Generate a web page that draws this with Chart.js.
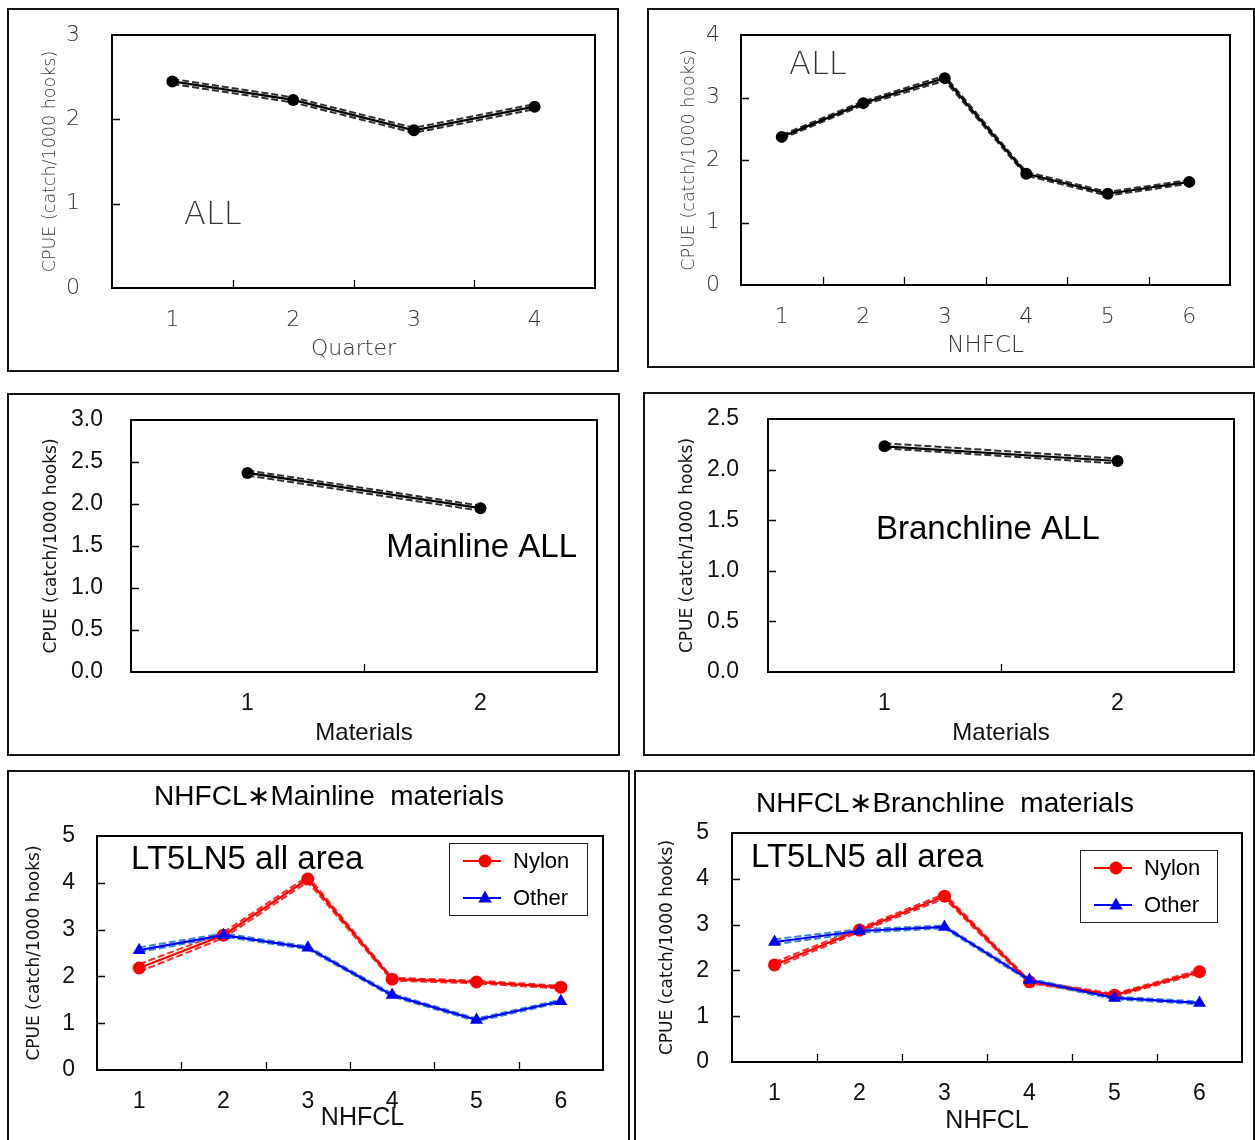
<!DOCTYPE html>
<html>
<head>
<meta charset="utf-8">
<title>CPUE by factor</title>
<script src="https://cdn.jsdelivr.net/npm/chart.js@4.4.1/dist/chart.umd.min.js"></script>
<style>
  html, body { margin: 0; padding: 0; background: #fff; }
  body { width: 1255px; height: 1140px; position: relative; overflow: hidden; }
  canvas { position: absolute; }
  .frame { position: absolute; box-sizing: border-box; border: 2px solid #111; pointer-events: none; }
</style>
</head>
<body>
<script>
// CPUE (catch/1000 hooks) estimates, with their lower and upper bounds
const quarterLabels = ['1', '2', '3', '4'];
const quarterCpue = [2.45, 2.23, 1.87, 2.15];
const quarterLow = [2.42, 2.20, 1.84, 2.12];
const quarterHigh = [2.48, 2.26, 1.90, 2.18];

const nhfclLabels = ['1', '2', '3', '4', '5', '6'];
const nhfclCpue = [2.37, 2.91, 3.31, 1.78, 1.46, 1.65];
const nhfclLow = [2.34, 2.88, 3.27, 1.75, 1.43, 1.62];
const nhfclHigh = [2.40, 2.94, 3.35, 1.81, 1.49, 1.68];

const materialLabels = ['1', '2'];
const mainlineCpue = [2.37, 1.95];
const mainlineLow = [2.34, 1.92];
const mainlineHigh = [2.40, 1.98];
const branchlineCpue = [2.23, 2.085];
const branchlineLow = [2.21, 2.06];
const branchlineHigh = [2.26, 2.11];

const mainNylon = [2.18, 2.88, 4.08, 1.94, 1.88, 1.77];
const mainNylonLow = [2.10, 2.82, 4.02, 1.91, 1.85, 1.74];
const mainNylonHigh = [2.26, 2.94, 4.14, 1.97, 1.91, 1.80];
const mainOther = [2.56, 2.88, 2.61, 1.60, 1.07, 1.47];
const mainOtherLow = [2.52, 2.85, 2.58, 1.57, 1.04, 1.44];
const mainOtherHigh = [2.62, 2.92, 2.64, 1.63, 1.10, 1.50];

const branchNylon = [2.12, 2.88, 3.62, 1.75, 1.46, 1.97];
const branchNylonLow = [2.06, 2.84, 3.57, 1.72, 1.43, 1.93];
const branchNylonHigh = [2.18, 2.92, 3.67, 1.78, 1.49, 2.01];
const branchOther = [2.62, 2.86, 2.95, 1.79, 1.40, 1.29];
const branchOtherLow = [2.57, 2.82, 2.92, 1.76, 1.37, 1.26];
const branchOtherHigh = [2.68, 2.90, 2.98, 1.82, 1.43, 1.32];

const yTitle = 'CPUE (catch/1000 hooks)';

// plot frame, inward ticks, free text and a boxed legend
const decor = {
  id: 'decor',
  afterDraw(chart, args, opts) {
    const { ctx, chartArea: a } = chart;
    const x = chart.scales.x, y = chart.scales.y;
    const ox = opts.origin.x, oy = opts.origin.y;
    ctx.save();
    ctx.strokeStyle = '#000';
    ctx.lineWidth = 2;
    ctx.strokeRect(a.left, a.top, a.right - a.left, a.bottom - a.top);
    ctx.lineWidth = 1.3;
    ctx.beginPath();
    for (let i = 0; i < x.ticks.length - 1; i++) {
      const px = Math.round((x.getPixelForValue(i) + x.getPixelForValue(i + 1)) / 2) + 0.5;
      ctx.moveTo(px, a.bottom);
      ctx.lineTo(px, a.bottom - 8);
    }
    y.ticks.forEach(t => {
      if (t.value > y.min && t.value < y.max) {
        const py = Math.round(y.getPixelForValue(t.value)) + 0.5;
        ctx.moveTo(a.left, py);
        ctx.lineTo(a.left + 8, py);
      }
    });
    ctx.stroke();

    (opts.texts || []).forEach(t => {
      ctx.font = t.font;
      ctx.fillStyle = t.color || '#000';
      ctx.textAlign = t.align || 'left';
      ctx.textBaseline = 'middle';
      ctx.fillText(t.text, t.x - ox, t.y - oy);
    });

    if (opts.legend) {
      const b = opts.legend;
      const bx = b.x - ox, by = b.y - oy;
      ctx.lineWidth = 1;
      ctx.strokeStyle = '#222';
      ctx.strokeRect(bx + 0.5, by + 0.5, b.w, b.h);
      const items = chart.data.datasets.filter(d => !d.bound);
      items.sort((p, q) => p.legendRank - q.legendRank);
      items.forEach((d, i) => {
        const ry = by + 18 + i * 37;
        ctx.strokeStyle = d.borderColor;
        ctx.fillStyle = d.borderColor;
        ctx.lineWidth = 2;
        ctx.beginPath();
        ctx.moveTo(bx + 14, ry);
        ctx.lineTo(bx + 52, ry);
        ctx.stroke();
        const mx = bx + 36;
        ctx.beginPath();
        if (d.pointStyle === 'triangle') {
          const r = d.pointRadius;
          ctx.moveTo(mx, ry - r);
          ctx.lineTo(mx + r * 0.9, ry + r * 0.6);
          ctx.lineTo(mx - r * 0.9, ry + r * 0.6);
          ctx.closePath();
        } else {
          ctx.arc(mx, ry, d.pointRadius, 0, Math.PI * 2);
        }
        ctx.fill();
        ctx.fillStyle = '#000';
        ctx.font = b.font;
        ctx.textAlign = 'left';
        ctx.textBaseline = 'middle';
        ctx.fillText(d.label, bx + 64, ry + 1);
      });
    }
    ctx.restore();
  }
};

function meanSet(label, data, color, pointStyle, radius, order, rank) {
  return {
    label, data, order, legendRank: rank,
    borderColor: color, backgroundColor: color,
    borderWidth: 2.2, pointStyle, pointRadius: radius, pointBorderWidth: 0,
    tension: 0
  };
}

function boundSet(data, color, order) {
  return {
    label: '', data, bound: true, order,
    borderColor: color, borderWidth: 2, borderDash: [7, 3],
    pointRadius: 0, fill: false, tension: 0
  };
}

function makePanel(spec) {
  const f = spec.frame, p = spec.plot;
  const canvas = document.createElement('canvas');
  canvas.width = f.w;
  canvas.height = f.h;
  canvas.style.left = f.x + 'px';
  canvas.style.top = f.y + 'px';
  document.body.appendChild(canvas);
  const box = document.createElement('div');
  box.className = 'frame';
  Object.assign(box.style, { left: f.x + 'px', top: f.y + 'px', width: f.w + 'px', height: f.h + 'px' });
  document.body.appendChild(box);

  const yLh = spec.yTitleFont.size * 1.2;
  const xLh = spec.xTitleFont.size * 1.2;
  const tickLh = spec.tickFont.size * 1.2;
  const padLeft = spec.yTitleX - f.x - yLh / 2;
  const padBottom = f.y + f.h - spec.xTitleY - 1 - xLh / 2;
  const yWidth = p.l - f.x - padLeft;
  const xHeight = f.y + f.h - padBottom - p.b;

  new Chart(canvas, {
    type: 'line',
    data: { labels: spec.labels, datasets: spec.datasets },
    plugins: [decor],
    options: {
      responsive: false,
      animation: false,
      events: [],
      layout: {
        padding: { left: padLeft, top: p.t - f.y, right: f.x + f.w - p.r, bottom: padBottom }
      },
      scales: {
        x: {
          type: 'category',
          offset: true,
          grid: { display: false, drawTicks: false },
          border: { display: false },
          ticks: {
            color: spec.tickColor, font: spec.tickFont, maxRotation: 0, autoSkip: false,
            padding: spec.xTickY - p.b - tickLh / 2 + 2
          },
          title: {
            display: true, text: spec.xTitle, color: spec.tickColor,
            font: spec.xTitleFont, padding: 0
          },
          afterFit: s => { s.height = xHeight; }
        },
        y: {
          min: spec.yMin, max: spec.yMax,
          // invisible tick marks keep the labels clear of the plot frame
          grid: {
            display: true, drawOnChartArea: false, drawTicks: true,
            tickLength: p.l - spec.yTickRight, tickColor: 'rgba(0,0,0,0)'
          },
          border: { display: false },
          ticks: {
            stepSize: spec.yStep, color: spec.tickColor, font: spec.tickFont, padding: 0,
            callback: v => v.toFixed(spec.yDigits)
          },
          title: {
            display: true, text: yTitle, color: spec.tickColor,
            font: spec.yTitleFont, padding: 0
          },
          afterFit: s => { s.width = yWidth; }
        }
      },
      plugins: {
        legend: { display: false },
        tooltip: { enabled: false },
        decor: { origin: { x: f.x, y: f.y }, texts: spec.texts, legend: spec.legend }
      }
    }
  });
}

const thinFont = s => ({ family: 'DejaVu Sans', size: s, weight: 300 });
const plainFont = s => ({ family: 'Liberation Sans', size: s });
const black = '#000', grey = '#303030', red = '#ff0000', blue = '#0000ff';
const redDash = '#ff2a2a', blueDash = '#3c86d6';

// Quarter
makePanel({
  frame: { x: 7, y: 8, w: 612, h: 364 },
  plot: { l: 112, t: 35, r: 595, b: 288 },
  labels: quarterLabels,
  datasets: [
    boundSet(quarterLow, grey, 1), boundSet(quarterHigh, grey, 1),
    meanSet('ALL', quarterCpue, black, 'circle', 6, 0, 0)
  ],
  yMin: 0, yMax: 3, yStep: 1, yDigits: 0,
  tickFont: thinFont(22), tickColor: '#333', yTickRight: 80, xTickY: 318,
  xTitle: 'Quarter', xTitleFont: thinFont(22), xTitleY: 348,
  yTitleFont: thinFont(17.5), yTitleX: 50,
  texts: [{ text: 'ALL', x: 184, y: 216, font: '200 32px "DejaVu Sans"', color: '#333' }]
});

// NHFCL
makePanel({
  frame: { x: 647, y: 8, w: 608, h: 360 },
  plot: { l: 741, t: 35, r: 1230, b: 285 },
  labels: nhfclLabels,
  datasets: [
    boundSet(nhfclLow, grey, 1), boundSet(nhfclHigh, grey, 1),
    meanSet('ALL', nhfclCpue, black, 'circle', 6, 0, 0)
  ],
  yMin: 0, yMax: 4, yStep: 1, yDigits: 0,
  tickFont: thinFont(22), tickColor: '#333', yTickRight: 720, xTickY: 315,
  xTitle: 'NHFCL', xTitleFont: thinFont(23), xTitleY: 345,
  yTitleFont: thinFont(17.5), yTitleX: 689,
  texts: [{ text: 'ALL', x: 789, y: 66, font: '200 32px "DejaVu Sans"', color: '#333' }]
});

// Mainline materials
makePanel({
  frame: { x: 7, y: 393, w: 613, h: 363 },
  plot: { l: 131, t: 420, r: 597, b: 672 },
  labels: materialLabels,
  datasets: [
    boundSet(mainlineLow, grey, 1), boundSet(mainlineHigh, grey, 1),
    meanSet('Mainline ALL', mainlineCpue, black, 'circle', 6, 0, 0)
  ],
  yMin: 0, yMax: 3, yStep: 0.5, yDigits: 1,
  tickFont: plainFont(23), tickColor: '#111', yTickRight: 103, xTickY: 702,
  xTitle: 'Materials', xTitleFont: plainFont(24), xTitleY: 732,
  yTitleFont: { family: 'DejaVu Sans', size: 17 }, yTitleX: 52,
  texts: [{ text: 'Mainline ALL', x: 577, y: 548, align: 'right', font: '33px "Liberation Sans"' }]
});

// Branchline materials
makePanel({
  frame: { x: 643, y: 392, w: 612, h: 364 },
  plot: { l: 768, t: 419, r: 1234, b: 672 },
  labels: materialLabels,
  datasets: [
    boundSet(branchlineLow, grey, 1), boundSet(branchlineHigh, grey, 1),
    meanSet('Branchline ALL', branchlineCpue, black, 'circle', 6, 0, 0)
  ],
  yMin: 0, yMax: 2.5, yStep: 0.5, yDigits: 1,
  tickFont: plainFont(23), tickColor: '#111', yTickRight: 739, xTickY: 702,
  xTitle: 'Materials', xTitleFont: plainFont(24), xTitleY: 732,
  yTitleFont: { family: 'DejaVu Sans', size: 17 }, yTitleX: 688,
  texts: [{ text: 'Branchline ALL', x: 876, y: 530, font: '33px "Liberation Sans"' }]
});

// NHFCL x mainline materials
makePanel({
  frame: { x: 7, y: 770, w: 623, h: 380 },
  plot: { l: 97, t: 836, r: 603, b: 1070 },
  labels: nhfclLabels,
  datasets: [
    boundSet(mainNylonLow, redDash, 3), boundSet(mainNylonHigh, redDash, 3),
    boundSet(mainOtherLow, blueDash, 2), boundSet(mainOtherHigh, blueDash, 2),
    meanSet('Nylon', mainNylon, red, 'circle', 6.5, 1, 0),
    meanSet('Other', mainOther, blue, 'triangle', 7.5, 0, 1)
  ],
  yMin: 0, yMax: 5, yStep: 1, yDigits: 0,
  tickFont: plainFont(23), tickColor: '#111', yTickRight: 75, xTickY: 1100,
  xTitle: '\u2002\u2002NHFCL', xTitleFont: plainFont(25), xTitleY: 1117,
  yTitleFont: { family: 'DejaVu Sans', size: 17 }, yTitleX: 35,
  texts: [
    { text: 'NHFCL∗Mainline  materials', x: 329, y: 797, align: 'center', font: '28px "Liberation Sans"' },
    { text: 'LT5LN5 all area', x: 131, y: 860, font: '33px "Liberation Sans"' }
  ],
  legend: { x: 449, y: 843, w: 138, h: 72, font: '22px "Liberation Sans"' }
});

// NHFCL x branchline materials
makePanel({
  frame: { x: 634, y: 770, w: 621, h: 380 },
  plot: { l: 732, t: 833, r: 1242, b: 1062 },
  labels: nhfclLabels,
  datasets: [
    boundSet(branchNylonLow, redDash, 3), boundSet(branchNylonHigh, redDash, 3),
    boundSet(branchOtherLow, blueDash, 2), boundSet(branchOtherHigh, blueDash, 2),
    meanSet('Nylon', branchNylon, red, 'circle', 6.5, 1, 0),
    meanSet('Other', branchOther, blue, 'triangle', 7.5, 0, 1)
  ],
  yMin: 0, yMax: 5, yStep: 1, yDigits: 0,
  tickFont: plainFont(23), tickColor: '#111', yTickRight: 709, xTickY: 1092,
  xTitle: 'NHFCL', xTitleFont: plainFont(25), xTitleY: 1120,
  yTitleFont: { family: 'DejaVu Sans', size: 17 }, yTitleX: 668,
  texts: [
    { text: 'NHFCL∗Branchline  materials', x: 945, y: 804, align: 'center', font: '28px "Liberation Sans"' },
    { text: 'LT5LN5 all area', x: 751, y: 858, font: '33px "Liberation Sans"' }
  ],
  legend: { x: 1080, y: 850, w: 137, h: 72, font: '22px "Liberation Sans"' }
});
</script>
</body>
</html>
